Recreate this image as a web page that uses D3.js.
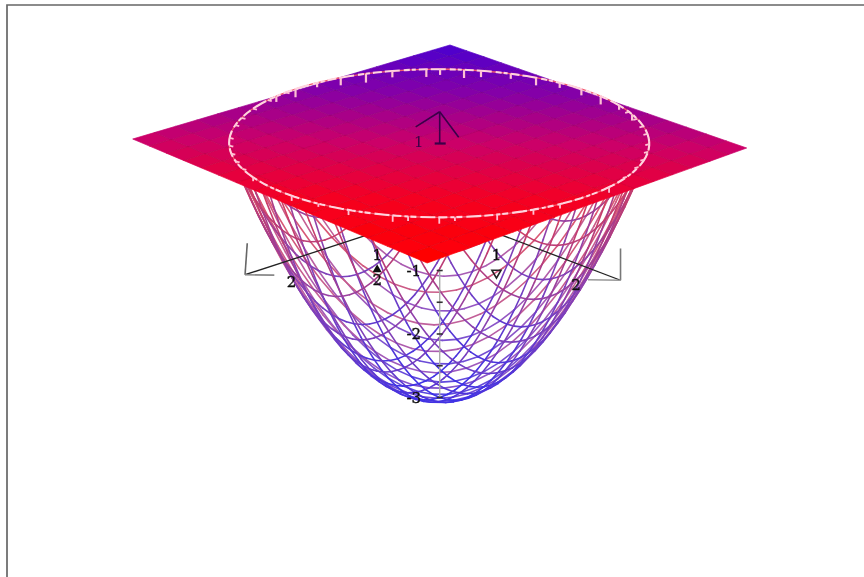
<!DOCTYPE html>
<html><head><meta charset="utf-8">
<script src="https://cdnjs.cloudflare.com/ajax/libs/d3/7.8.5/d3.min.js"></script>
<style>html,body{margin:0;padding:0;background:#fff;overflow:hidden}svg{display:block}text{font-family:"DejaVu Serif","Liberation Serif",serif;fill:#111}</style>
</head><body><svg id="c" width="864" height="577"></svg>
<script>
// ---- data ----
const planeGrid = [-2,-1.75,-1.5,-1.25,-1,-0.75,-0.5,-0.25,0,0.25,0.5,0.75,1,1.25,1.5,1.75,2];
const sampleValues = [-2,-1.9,-1.8,-1.7,-1.6,-1.5,-1.4,-1.3,-1.2,-1.1,-1,-0.9,-0.8,-0.7,-0.6,-0.5,-0.4,-0.3,-0.2,-0.1,0,0.1,0.2,0.3,0.4,0.5,0.6,0.7,0.8,0.9,1,1.1,1.2,1.3,1.4,1.5,1.6,1.7,1.8,1.9,2];
const bowlProfile = [4,3.61,3.24,2.89,2.56,2.25,1.96,1.69,1.44,1.21,1,0.81,0.64,0.49,0.36,0.25,0.16,0.09,0.04,0.01,0,0.01,0.04,0.09,0.16,0.25,0.36,0.49,0.64,0.81,1,1.21,1.44,1.69,1.96,2.25,2.56,2.89,3.24,3.61,4];
const meshStride = 3;
const bowlFloor = -3;
const bowlWidth = 0.96;
const planeLevel = 1;
const planeHeights = [-1,-0.5,0,0.5,1];
const planeColours = ["#4a00d0","#8400a8","#cc0068","#f50022","#ff0000"];
const wireLevels = [-3,-2,-1,0,1];
const wireColours = ["#3a30e8","#6a3cc8","#8c42b0","#b03c80","#d8405c"];
const ringColours = ["#5a48e0","#9a58c0","#c0609c","#d0587c","#e05a70"];
const zTickValues = [-1,-1.5,-2,-2.5,-3];
const zLabels = [[1,"1"],[-1,"-1"],[-2,"-2"],[-3,"-3"]];
const xLabels = [[1,"1"],[2,"2"]];
const yLabels = [[1,"1"],[2,"2"]];
const axisReach = 2.31, axisLevel = -0.07;
const rimRadius = 1.93, rimLift = 0.08;
const rimStubsFar = [146,138,130,122,114,106,96,92,85,80,71,63,55,47,39,30,22];
const rimLengthsFar = [0.09,0.13,0.07,0.12,0.14,0.1,0.12,0.09,0.13,0.1,0.08,0.12,0.08,0.1,0.13,0.07,0.1];
const rimStubsNear = [147,130,121,112,100,96,88,84,73,63,55,37];
const rimLengthsNear = [0.06,0.08,0.05,0.08,0.1,0.07,0.1,0.06,0.09,0.08,0.07,0.09];
const rimStubsSide = [178,172,166,160,154,188,194,202,210,218,2,8,14,20,28,-6,-12,-18,-24];
const topArrow = [[0,0,1.5],[-0.476,-0.136,1],[0,-0.24,1],[0,0,1]];

// ---- scales ----
const sx = d3.scaleLinear().domain([-1,1]).range([-307,307]);
const sy = d3.scaleLinear().domain([-1,1]).range([-4.5,4.5]);
const dx = d3.scaleLinear().domain([-1,1]).range([11.3,-11.3]);
const dy = d3.scaleLinear().domain([-1,1]).range([-108,108]);
const zy = d3.scaleLinear().domain([1,-3]).range([0,254]);
const persp = d3.scaleLinear().domain([-1,1]).range([1.0963,0.9037]);
const planeColor = d3.scaleLinear().domain(planeHeights).range(planeColours);
const wireColor = d3.scaleLinear().domain(wireLevels).range(wireColours);
const ringColor = d3.scaleLinear().domain(wireLevels).range(ringColours);
const cx = 439.7, cy = 143.5;
function projTS(t,s,z){ const w=persp(s); return [cx+(sx(t)+dx(s))/w, cy+(sy(t)+dy(s))/w+zy(z)]; }
function proj(x,y,z){ return projTS((x-y)/4,(x+y)/4,z); }
const line = d3.line();

const svg = d3.select("#c");
svg.append("defs").append("filter").attr("id","soft").attr("x","-5%").attr("y","-5%").attr("width","110%").attr("height","110%")
  .append("feGaussianBlur").attr("stdDeviation",0.55);

svg.append("path").attr("d",line([[7,577],[7,5],[864,5]])).attr("fill","none").attr("stroke","#666").attr("stroke-width",1.7);
const root = svg.append("g").attr("filter","url(#soft)");

// ---- bowl mesh ----
const n = sampleValues.length, mid=(n-1)/2;
const zAt = (i,j)=>bowlProfile[i]+bowlProfile[j]+bowlFloor;
function edge(i0,j0,i1,j1,colour){
  const z0=zAt(i0,j0), z1=zAt(i1,j1);
  if(z0>planeLevel && z1>planeLevel) return;
  let a=[sampleValues[i0],sampleValues[j0],z0], b=[sampleValues[i1],sampleValues[j1],z1];
  if(z0>planeLevel||z1>planeLevel){
    const f=(planeLevel-z0)/(z1-z0);
    const c=[a[0]+f*(b[0]-a[0]),a[1]+f*(b[1]-a[1]),planeLevel];
    if(z0>planeLevel) a=c; else b=c;
  }
  root.append("path").attr("d",line([proj(a[0]*bowlWidth,a[1]*bowlWidth,a[2]),proj(b[0]*bowlWidth,b[1]*bowlWidth,b[2])]))
    .attr("stroke",colour((a[2]+b[2])/2)).attr("stroke-width",1.6).attr("fill","none").attr("stroke-linecap","round");
}
const onMesh=i=>(i-mid)%meshStride===0;
// cross lines at constant depth
for(let i=1;i<n;i++)for(let j=0;j<n-1;j++){
  if(onMesh(i+j-2*mid)) edge(i,j,i-1,j+1,ringColor);
}
// the two grid families
for(let c=0;c<n;c++) if(onMesh(c)) for(let v=0;v<n-1;v++){
  edge(c,v,c,v+1,wireColor);
  edge(v,c,v+1,c,wireColor);
}

// ---- axes ----
const ink="#222";
function seg(a,b,col,w){ root.append("path").attr("d",line([a,b])).attr("stroke",col).attr("stroke-width",w).attr("fill","none"); }
const xEnd=[axisReach,0,axisLevel], yEnd=[0,axisReach,axisLevel];
seg(proj(0,0,axisLevel),proj(...xEnd),ink,1.3);
seg(proj(0,0,axisLevel),proj(...yEnd),ink,1.3);
seg(proj(...xEnd),proj(axisReach,0,0.43),"#777",1.6);
seg(proj(...xEnd),proj(axisReach-0.2,0.2,axisLevel),"#999",1.6);
seg(proj(...yEnd),proj(0.03,axisReach,0.44),"#666",1.6);
seg(proj(...yEnd),proj(0.18,axisReach-0.18,axisLevel),"#888",1.6);
seg(proj(0,0,-1),proj(0,0,-3),"#aaa",1.4);
zTickValues.forEach(z=>{const p=proj(0,0,z); seg([p[0]-3,p[1]],[p[0]+3,p[1]],"#333",1.6);});
const tri=d3.symbol().type(d3.symbolTriangle).size(36);
root.append("path").attr("d",tri()).attr("transform",`translate(${proj(1,0,0)[0]-19},${proj(1,0,0)[1]+37}) rotate(180)`).attr("fill","none").attr("stroke",ink).attr("stroke-width",1.6);
root.append("path").attr("d",tri()).attr("transform",`translate(${proj(0,1,0)[0]+19},${proj(0,1,0)[1]+36})`).attr("fill","#111");
const lbl=(p,ox,oy,t)=>root.append("text").attr("x",p[0]+ox).attr("y",p[1]+oy).attr("text-anchor","middle").attr("font-size",15).attr("stroke","#111").attr("stroke-width",0.35).text(t);
xLabels.forEach(([v,t])=>lbl(proj(v,0,0),-19,24,t));
yLabels.forEach(([v,t])=>lbl(proj(0,v,0),19,26,t));
lbl(proj(0,1,0),19,51,"2");
zLabels.filter(d=>d[0]<0).forEach(([v,t])=>lbl(proj(0,0,v),-26,5,t));

// ---- plane ----
const m=planeGrid.length;
for(let i=0;i<m-1;i++)for(let j=0;j<m-1;j++){
  const xa=planeGrid[i],xb=planeGrid[i+1],ya=planeGrid[j],yb=planeGrid[j+1];
  const col=planeColor((xa+xb+ya+yb)/8);
  root.append("path")
    .attr("d",line([proj(xa,ya,planeLevel),proj(xb,ya,planeLevel),proj(xb,yb,planeLevel),proj(xa,yb,planeLevel)])+"Z")
    .attr("fill",col).attr("stroke",col).attr("stroke-width",0.7);
}
for(let i=1;i<m-1;i++){
  const v=planeGrid[i], e=planeGrid[0], f=planeGrid[m-1];
  seg(proj(v,e,planeLevel),proj(v,f,planeLevel),"rgba(70,0,60,.14)",0.8);
  seg(proj(e,v,planeLevel),proj(f,v,planeLevel),"rgba(70,0,60,.14)",0.8);
}

// ---- rim ----
const k=rimRadius*Math.SQRT2/4;
const rimPt=(a,z)=>projTS(k*Math.cos(a*Math.PI/180),k*Math.sin(a*Math.PI/180),z);
const rimTop=planeLevel+rimLift;
const ring=d3.range(0,361,3).map(a=>rimPt(a,rimTop));
root.append("path").attr("d",line(ring)).attr("fill","none").attr("stroke","#f2586e").attr("stroke-width",1.3);
root.append("path").attr("d",line(ring)).attr("fill","none").attr("stroke","#ffd4de").attr("stroke-width",2.1).attr("stroke-dasharray","9 3 15 4 6 2 4 3");
rimStubsFar.forEach((a,i)=>seg(rimPt(-a,rimTop),rimPt(-a,rimTop-rimLengthsFar[i]),"#ffc0d4",2.2));
rimStubsNear.forEach((a,i)=>seg(rimPt(a,rimTop),rimPt(a,rimTop-rimLengthsNear[i]),"#ffc0d4",1.8));
rimStubsSide.forEach(a=>{const p=rimPt(a,rimTop); seg(p,[p[0]+(Math.cos(a*Math.PI/180)>0?-4:4),p[1]+1],"#ffc0d4",1.8);});

// ---- top arrow seen through the plane ----
const tip=proj(...topArrow[0]);
topArrow.slice(1).forEach(p=>seg(tip,proj(...p),"#3a0048",1.6));
const base=proj(...topArrow[3]);
seg([base[0]-5,base[1]],[base[0]+6,base[1]],"#3a0048",2.2);
root.append("text").attr("x",proj(0,0,1)[0]-21).attr("y",proj(0,0,1)[1]+3).attr("text-anchor","middle").attr("font-size",15).style("fill","#3a0048").text(zLabels[0][1]);
</script></body></html>
